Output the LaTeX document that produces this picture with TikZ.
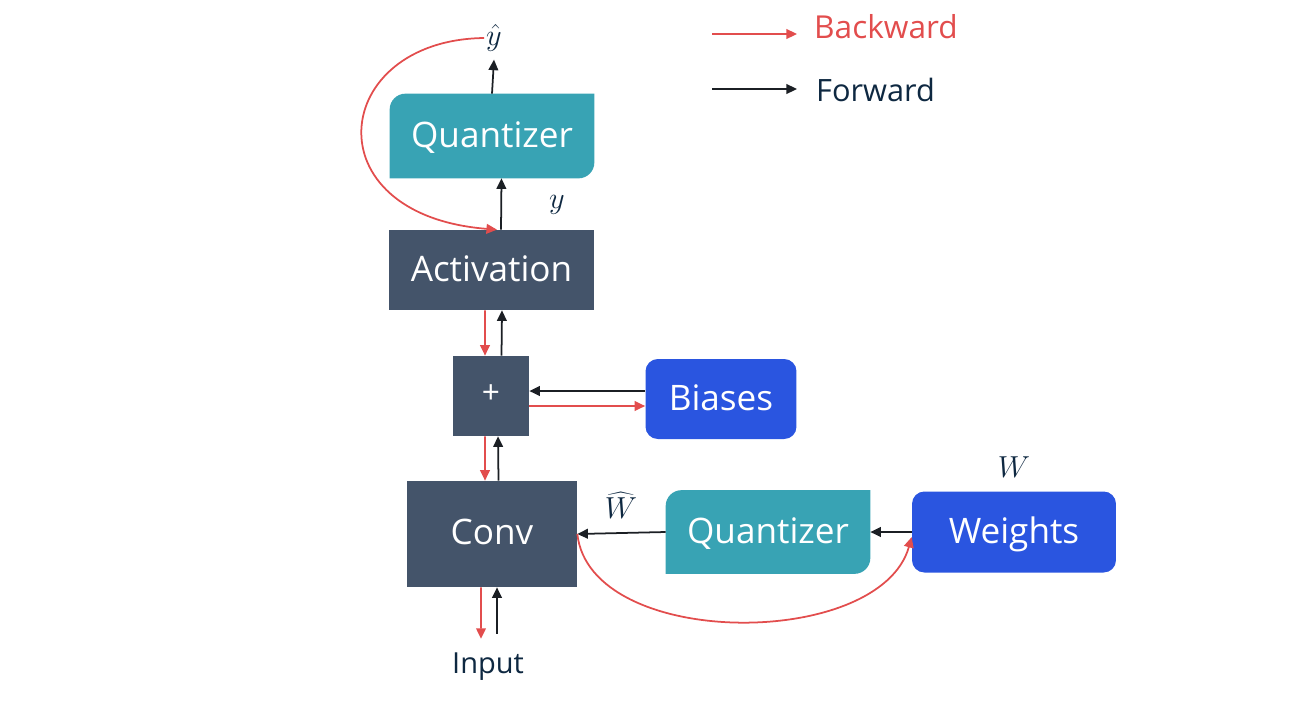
\documentclass[tikz,border=0pt]{standalone}
\usepackage{fontspec}
\setmainfont{Open Sans}
\usetikzlibrary{arrows.meta,backgrounds}

\definecolor{slate}{HTML}{44546A}
\definecolor{quantcol}{HTML}{38A3B4}
\definecolor{paramcol}{HTML}{2A55E0}
\definecolor{backred}{HTML}{E24D4D}
\definecolor{fwdblack}{HTML}{1B1F24}
\definecolor{labelcol}{HTML}{0E2841}

\tikzstyle{layer}=[rectangle,
    fill=slate,
    text=white,
    inner sep=0pt,
    text depth=0.2em,
    font=\fontsize{20}{24}\selectfont]
\tikzstyle{param}=[rectangle,
    rounded corners=7pt,
    fill=paramcol,
    text=white,
    inner sep=0pt,
    text depth=0.2em,
    minimum height=1.6cm,
    font=\fontsize{20}{24}\selectfont]
\tikzstyle{quant}=[rectangle,
    text=white,
    inner sep=0pt,
    text depth=0.2em,
    minimum width=4.08cm,
    minimum height=1.68cm,
    font=\fontsize{20}{24}\selectfont]
\tikzstyle{fwd}=[draw=fwdblack, line width=1pt, -{Triangle[length=6pt,width=5.5pt]}]
\tikzstyle{bwd}=[draw=backred, line width=1pt, -{Triangle[length=6pt,width=5.5pt]}]
\tikzstyle{var}=[text=labelcol, inner sep=1pt, font=\fontsize{18}{22}\selectfont]

\begin{document}
\begin{tikzpicture}[x=0.02cm,y=-0.02cm]
    \useasboundingbox (0,0) rectangle (1311,707);
    % main column
    \node (qtop) [quant] at (492,136) {Quantizer};
    \node (act) [layer,minimum width=4.1cm,minimum height=1.6cm] at (491.5,270) {Activation};
    \node (plus) [layer,minimum width=1.52cm,minimum height=1.6cm,font=\fontsize{18}{22}\selectfont] at (491,396) {+};
    \node (conv) [layer,minimum width=3.4cm,minimum height=2.12cm] at (492,534) {Conv};
    \node (inp) [var,inner sep=0pt,font=\fontsize{16.5}{20}\selectfont] at (488,667) {Input};
    \node (yhat) [var] at (494,38) {$\hat{y}$};
    \node (ylbl) [var] at (557,205) {$y$};
    % parameters
    \node (bias) [param,minimum width=3.02cm] at (721,399) {Biases};
    \node (qbot) [quant,minimum height=1.66cm] at (768,532) {Quantizer};
    \node (wts) [param,minimum width=4.08cm,minimum height=1.62cm] at (1014,532) {Weights};
    \node (whatlbl) [var] at (621,505) {$\widehat{W}$};
    \node (wlbl) [var] at (1014,467) {$W$};

    % quantizer boxes: two corners rounded
    \begin{scope}[on background layer]
        \foreach \q in {qtop,qbot}
            \fill[quantcol] (\q.south west) [rounded corners=9pt] -- (\q.north west) [sharp corners] -- (\q.north east)
                [rounded corners=9pt] -- (\q.south east) [sharp corners] -- cycle;
    \end{scope}

    % forward
    \draw[fwd] (qtop.north) -- ([yshift=-0.12cm]yhat.south);
    \draw[fwd] ([xshift=0.19cm]act.north) -- ([xshift=0.19cm]qtop.south);
    \draw[fwd] ([xshift=0.21cm]plus.north) -- ([xshift=0.21cm]act.south);
    \draw[fwd] ([xshift=0.13cm]conv.north) -- ([xshift=0.14cm]plus.south);
    \draw[fwd] ([xshift=0.18cm,yshift=0.38cm]inp.north) -- ([xshift=0.1cm]conv.south);
    \coordinate (bb) at ([yshift=0.1cm]plus.east);
    \draw[fwd] (bb -| bias.west) -- (bb);
    \draw[fwd] (qbot.west) -- (conv.east);
    \draw[fwd] (wts.west) -- (qbot.east);

    % backward
    \draw[bwd] (yhat.west) .. controls (330,40) and (310,215) .. ([xshift=0.11cm]act.north);
    \draw[bwd] ([xshift=-0.13cm]act.south) -- ([xshift=-0.12cm]plus.north);
    \coordinate (br) at ([yshift=-0.2cm]plus.east);
    \draw[bwd] (br) -- (br -| bias.west);
    \draw[bwd] ([xshift=-0.12cm]plus.south) -- ([xshift=-0.14cm]conv.north);
    \draw[bwd] ([xshift=-0.22cm]conv.south) -- ([xshift=-0.14cm,yshift=0.28cm]inp.north);
    \draw[bwd] (conv.east) .. controls (590,650) and (880,650) .. ([yshift=-0.1cm]wts.west);

    % legend
    \node (bwdlbl) [anchor=west,text=backred,font=\fontsize{18}{22}\selectfont] at (808,27) {Backward};
    \node (fwdlbl) [anchor=west,text=labelcol,font=\fontsize{17.5}{22}\selectfont] at (810,90) {Forward};
    \coordinate (bwdtail) at (712,34);
    \coordinate (fwdtail) at (712,89);
    \draw[bwd] (bwdtail) -- ++(85,0);
    \draw[fwd] (fwdtail) -- ++(85,0);
\end{tikzpicture}
\end{document}
